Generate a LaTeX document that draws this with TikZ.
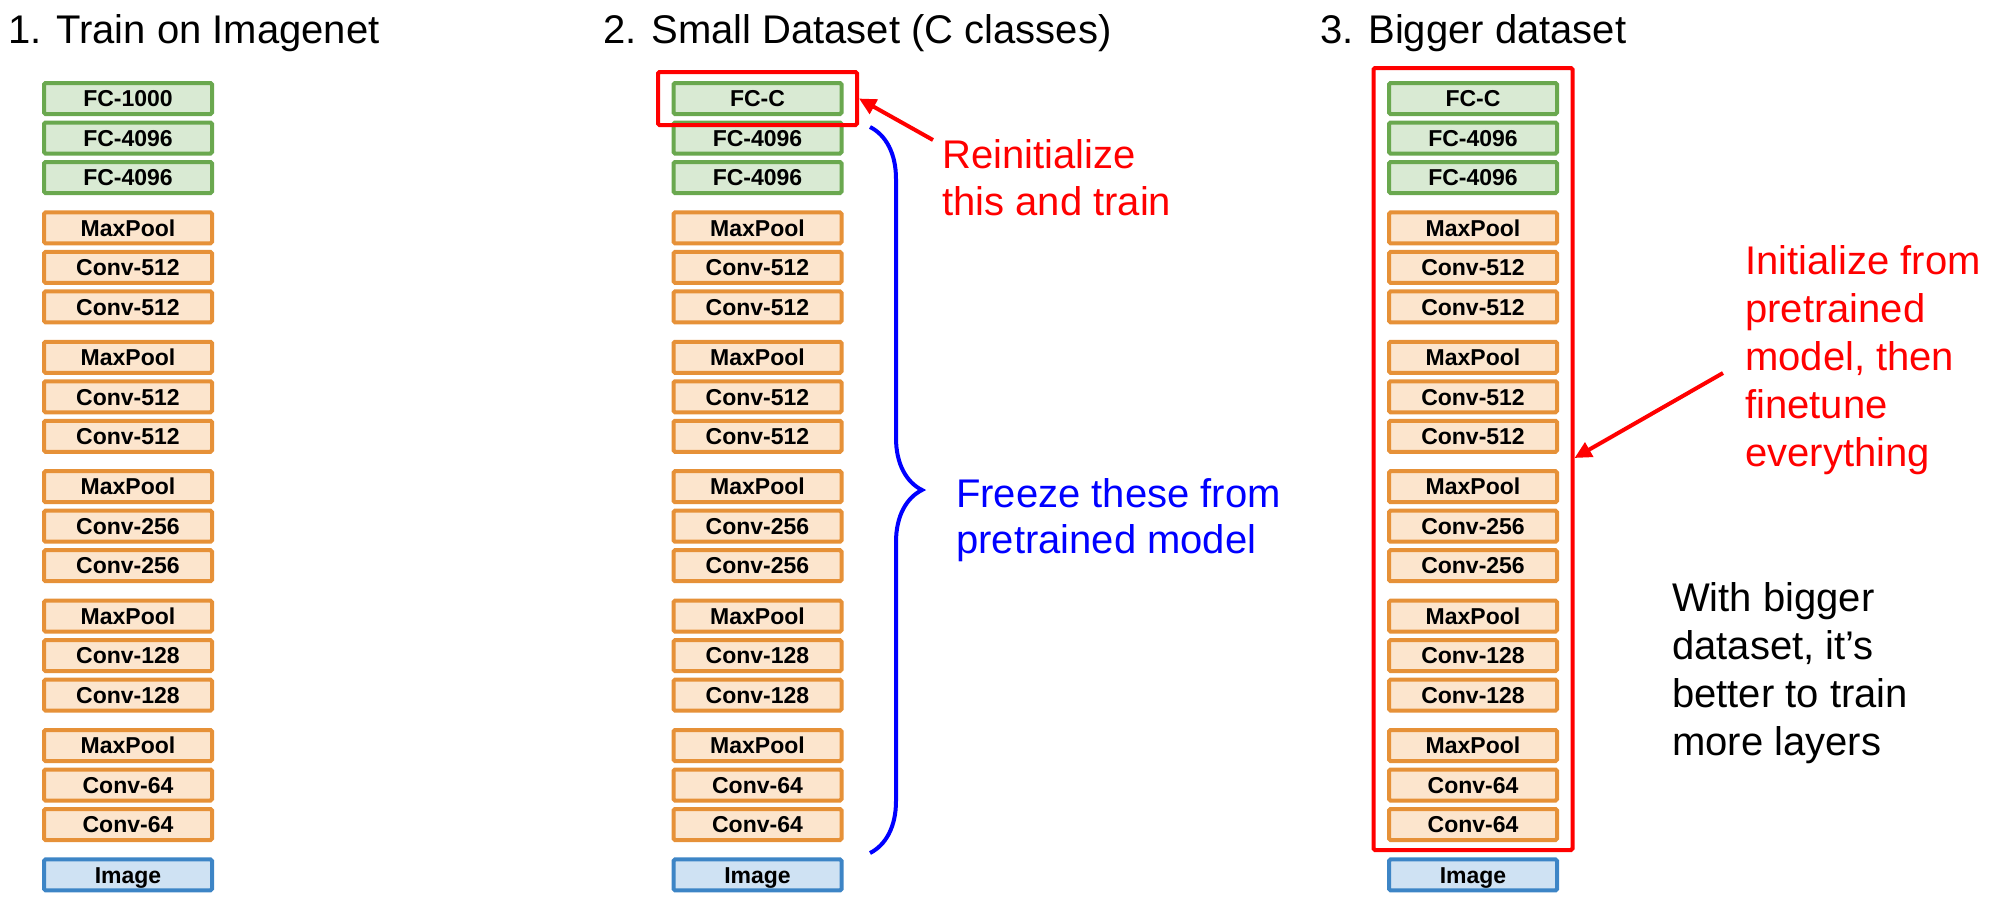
\documentclass[tikz,border=0pt]{standalone}
\usepackage{fontspec}
\setmainfont{Liberation Sans}
\usetikzlibrary{arrows.meta,fit,decorations.pathreplacing}
\definecolor{fcline}{RGB}{106,168,79}
\definecolor{fcfill}{RGB}{217,234,211}
\definecolor{convline}{RGB}{230,145,56}
\definecolor{convfill}{RGB}{252,229,205}
\definecolor{imgline}{RGB}{61,133,198}
\definecolor{imgfill}{RGB}{207,226,243}
\tikzset{
  layer/.style = {draw, line width=4pt, rounded corners=1.5pt, minimum width=168pt, minimum height=31pt,
    inner sep=0pt, outer sep=0pt, text height=16.5pt, text depth=0pt, font=\fontsize{23}{27}\selectfont\bfseries},
  fclayer/.style = {layer, draw=fcline, fill=fcfill},
  convlayer/.style = {layer, draw=convline, fill=convfill},
  imglayer/.style = {layer, draw=imgline, fill=imgfill},
  bigtext/.style = {anchor=base west, align=left, inner sep=0pt, font=\fontsize{40}{48}\selectfont},
  redframe/.style = {draw=red, line width=4pt, rounded corners=1.5pt, inner sep=0pt},
  redarrow/.style = {draw=red, line width=4pt, -{Triangle[length=17pt,width=16pt]}}
}
\begin{document}
\begin{tikzpicture}[x=1pt, y=-1pt]
  \useasboundingbox (0,0) rectangle (1992,906);
  \node[bigtext] (title-a) at (8,43) {1. Train on Imagenet};
  \node[bigtext] (title-b) at (603,43) {2. Small Dataset (C classes)};
  \node[bigtext] (title-c) at (1320,43) {3. Bigger dataset};
  \foreach \col/\cx/\top in {a/128/FC-1000, b/757.5/FC-C, c/1473/FC-C} {
    \node[fclayer] (\col-0-0) at (\cx,98.5) {\top};
    \node[fclayer] (\col-0-1) at (\cx,138) {FC-4096};
    \node[fclayer] (\col-0-2) at (\cx,177.5) {FC-4096};
    \foreach \g/\n in {1/512, 2/512, 3/256, 4/128, 5/64} {
      \node[convlayer] (\col-\g-0) at (\cx,{98.5+129.4*\g}) {MaxPool};
      \node[convlayer] (\col-\g-1) at (\cx,{138+129.4*\g}) {Conv-\n};
      \node[convlayer] (\col-\g-2) at (\cx,{177.5+129.4*\g}) {Conv-\n};
    }
    \node[imglayer] (\col-img) at (\cx,874.9) {Image};
  }
  \node[redframe, fit=(b-0-0), inner xsep=15.5pt, inner ysep=11pt] (reinit-frame) {};
  \node[redframe, fit=(c-0-0)(c-5-2), inner xsep=15.5pt, inner ysep=12.5pt, yshift=2.5pt] (init-frame) {};
  \node[bigtext, red, font=\fontsize{40}{47}\selectfont] (reinit-text) at (942,215) {Reinitialize\\this and train};
  \coordinate (reinit-tail) at (933,140);
  \draw[redarrow] (reinit-tail) -- (reinit-frame.east);
  \coordinate (brace-top) at (870,127);
  \coordinate (brace-bot) at (870,853);
  \draw[blue, line width=4pt, decorate, decoration={brace, amplitude=52pt}] (brace-top) -- (brace-bot);
  \node[bigtext, blue, font=\fontsize{40}{46}\selectfont] (freeze-text) at (956,553) {Freeze these from\\pretrained model};
  \node[bigtext, red] (init-text) at (1745,466) {Initialize from\\pretrained\\model, then\\finetune\\everything};
  \coordinate (init-tail) at (1723,373);
  \draw[redarrow] (init-tail) -- (init-frame.east |- 0,458);
  \node[bigtext] (bigger-text) at (1672,755) {With bigger\\dataset, it’s\\better to train\\more layers};
\end{tikzpicture}
\end{document}
